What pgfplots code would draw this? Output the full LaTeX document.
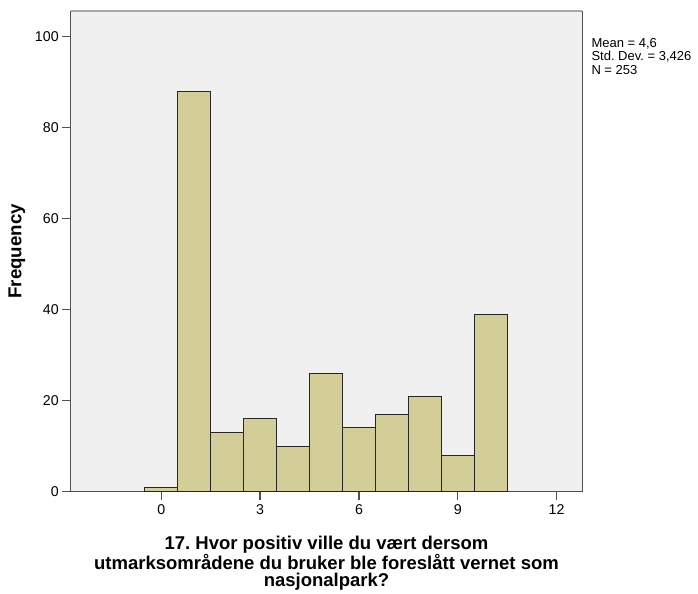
\documentclass[border=0pt]{standalone}
\usepackage{pgfplots}
\pgfplotsset{compat=1.18}
\usepackage{fontspec}
\setmainfont{Liberation Sans}
\frenchspacing
\definecolor{barfill}{RGB}{211,206,151}
\definecolor{bgfill}{RGB}{240,240,240}
\definecolor{axgray}{RGB}{80,80,80}
\begin{document}
\begin{tikzpicture}
\begin{axis}[
  at={(0pt,0pt)}, anchor=south west,
  scale only axis,
  width=511.6pt, height=480.7pt,
  xmin=-2.75, xmax=12.78,
  ymin=0, ymax=105.6,
  axis background/.style={fill=bgfill},
  axis line style={draw=axgray, line width=1.3pt},
  axis x line*=bottom, axis y line*=left,
  xtick={0,3,6,9,12},
  ytick={0,20,40,60,80,100},
  tick align=outside,
  major tick length=8.5pt,
  xtick style={draw=axgray, line width=1.3pt},
  ytick style={draw=axgray, line width=1.3pt},
  tick label style={font=\fontsize{14.2}{14.2}\selectfont, text=black},
  /pgf/number format/assume math mode=true,
  xticklabel style={yshift=-1pt},
  yticklabel style={xshift=0pt},
  xlabel={17. Hvor positiv ville du vært dersom\\utmarksområdene du bruker ble foreslått vernet som\\nasjonalpark?},
  xlabel style={align=center, at={(axis description cs:0.5,0)}, anchor=north, yshift=-40.5pt, font=\fontsize{18.5}{17.2}\selectfont\bfseries},
  clip=false,
]
\addplot[ybar, bar width=1, fill=barfill, draw=black!85, line width=1pt] coordinates {
  (0,1) (1,88) (2,13) (3,16) (4,10) (5,26) (6,14) (7,17) (8,21) (9,8) (10,39)
};
\draw[draw=gray!70, line width=1.3pt] (rel axis cs:0,1) -- (rel axis cs:1,1);
\draw[draw=axgray, line width=1.3pt] (rel axis cs:1,0) -- (rel axis cs:1,1);
\node[anchor=north west, align=left, font=\fontsize{13}{13.5}\selectfont, inner sep=0pt] at ([xshift=9pt, yshift=-27pt]rel axis cs:1,1) {Mean = 4,6\\Std. Dev. = 3,426\\N = 253};
\node[rotate=90, anchor=center, font=\fontsize{18.7}{18.7}\selectfont\bfseries, inner sep=0pt] at ([xshift=-53.7pt]rel axis cs:0,0.5) {Frequency};
\end{axis}
\path[use as bounding box] (-70.7pt,-94.3pt) rectangle (627.3pt,491.7pt);
\end{tikzpicture}
\end{document}
